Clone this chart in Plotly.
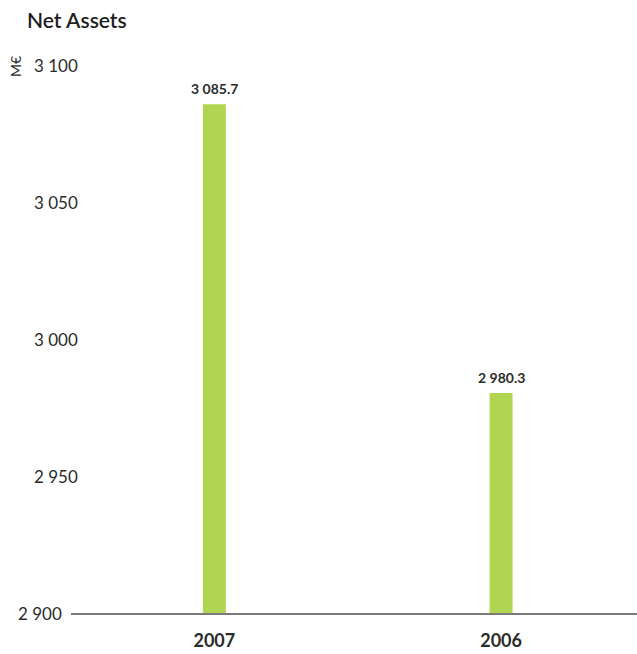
import plotly.graph_objects as go

years = ["2007", "2006"]
net_assets = [3085.7, 2980.3]
y_ticks = [3100, 3050, 3000, 2950, 2900]
y_range = [2900, 3100]

BAR_COLOR = "#b1d451"
TEXT_COLOR = "#2b2b2b"
FONT = "Lato"

W, H = 637, 654
M_L, M_R, M_T, M_B = 71, 0, 65, 41


def fmt(v, decimals):
    s = f"{v:,.{decimals}f}"
    return s.replace(",", " ")


fig = go.Figure(
    go.Bar(
        x=years,
        y=net_assets,
        width=0.08,
        marker=dict(color=BAR_COLOR, line=dict(width=0)),
        hoverinfo="skip",
    )
)

annotations = []
# value labels over the bars (category index positions)
for i, v in enumerate(net_assets):
    annotations.append(dict(
        x=i, y=v, xref="x", yref="y", text=fmt(v, 1), showarrow=False,
        yanchor="bottom", yshift=5,
        font=dict(family=FONT, size=14, color=TEXT_COLOR, weight="bold"),
    ))

# y tick labels (left of the plot)
plot_w = W - M_L - M_R
for t in y_ticks:
    right_px = 64 if t == y_range[0] else 80
    annotations.append(dict(
        x=(right_px - M_L) / plot_w, y=t, xref="paper", yref="y",
        text=fmt(t, 0), showarrow=False, xanchor="right", yanchor="middle",
        font=dict(family=FONT, size=17, color=TEXT_COLOR),
    ))

# title and unit
plot_h = H - M_T - M_B
annotations.append(dict(
    x=(25 - M_L) / plot_w, y=1 + (M_T - 20) / plot_h,
    xref="paper", yref="paper", text="Net Assets", showarrow=False,
    xanchor="left", yanchor="middle",
    font=dict(family=FONT, size=21, color="#1e1e1e", weight=600),
))
annotations.append(dict(
    x=(15 - M_L) / plot_w, y=1 + (M_T - 67) / plot_h,
    xref="paper", yref="paper", text="M€", showarrow=False, textangle=-90,
    xanchor="center", yanchor="middle",
    font=dict(family=FONT, size=14, color=TEXT_COLOR),
))

fig.update_layout(
    width=W, height=H,
    margin=dict(l=M_L, r=M_R, t=M_T, b=M_B, pad=0),
    paper_bgcolor="white", plot_bgcolor="white",
    showlegend=False,
    annotations=annotations,
    xaxis=dict(
        type="category", range=[-0.5, 1.474],
        showline=True, linecolor="#7a7a7a", linewidth=1.5,
        showgrid=False, zeroline=False, ticks="",
        tickfont=dict(family=FONT, size=18, color=TEXT_COLOR, weight="bold"),
        ticklabelstandoff=11,
    ),
    yaxis=dict(
        range=y_range, showgrid=False, zeroline=False, showline=False,
        showticklabels=False, ticks="",
    ),
)

fig.write_html("out.html")
